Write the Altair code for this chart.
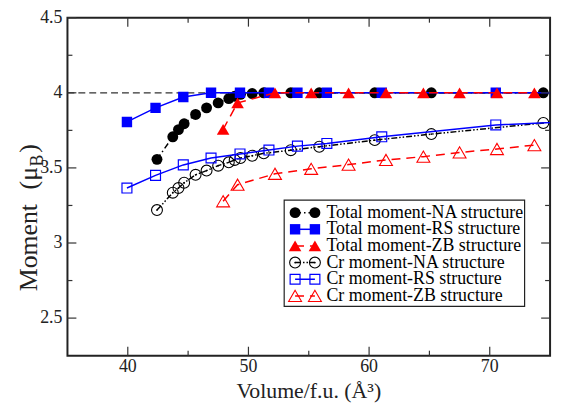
import altair as alt
import pandas as pd

# ---------------- data ----------------
na_vol = [42.42, 43.73, 44.20, 44.67, 45.62, 46.53, 47.49, 48.37, 48.86, 49.34,
          50.31, 51.27, 53.51, 55.87, 60.47, 65.16, 74.44]
na_total = [3.557, 3.707, 3.755, 3.794, 3.856, 3.900, 3.933, 3.962, 3.977, 3.990,
            3.995, 4.0, 4.0, 4.0, 4.0, 4.0, 4.0]
na_cr = [3.219, 3.335, 3.366, 3.401, 3.454, 3.482, 3.515, 3.537, 3.553, 3.566,
         3.581, 3.597, 3.618, 3.641, 3.685, 3.725, 3.799]

rs_vol = [39.93, 42.30, 44.60, 46.90, 49.30, 51.70, 54.06, 56.50, 61.05, 70.50, 80.0]
rs_total = [3.806, 3.900, 3.972, 4.0, 4.0, 4.0, 4.0, 4.0, 4.0, 4.0, 4.0]
rs_cr = [3.366, 3.450, 3.520, 3.566, 3.593, 3.619, 3.645, 3.663, 3.707, 3.786, 3.82]

zb_vol = [47.9, 49.1, 52.2, 55.2, 58.3, 61.4, 64.5, 67.5, 70.6, 73.7]
zb_total = [3.757, 3.933, 4.0, 4.0, 4.0, 4.0, 4.0, 4.0, 4.0, 4.0]
zb_cr = [3.278, 3.388, 3.461, 3.494, 3.522, 3.553, 3.575, 3.603, 3.626, 3.652]

labels = ["Total moment-NA structure", "Total moment-RS structure",
          "Total moment-ZB structure", "Cr moment-NA structure",
          "Cr moment-RS structure", "Cr moment-ZB structure"]

x_major = [40, 50, 60, 70]
x_major_labels = ["40", "50", "60", "70"]
x_minor = [45, 55, 65]
y_major = [2.5, 3.0, 3.5, 4.0, 4.5]
y_major_labels = ["2.5", "3", "3.5", "4", "4.5"]
y_minor = [2.75, 3.25, 3.75, 4.25]
ref_level = [4.0, 4.0]
ref_span = [35, 75]

x_title = "Volume/f.u.  (Å³)"

# ---------------- styling ----------------
W, H = 487, 341
FONT = "Liberation Serif"
INK = "#222"
xs = alt.Scale(domain=[35, 75], nice=False, zero=False)
ys = alt.Scale(domain=[2.25, 4.5], nice=False, zero=False)
X = alt.X("x:Q", scale=xs, axis=None)
Y = alt.Y("y:Q", scale=ys, axis=None)

DASH_NA_T = [6, 3, 1.5, 3]
DASH_NA_C = [6, 2, 1.5, 2, 1.5, 2]
DASH_ZB = [9, 6]

styles = [
    ("black", DASH_NA_T, dict(shape="circle", filled=True, size=121)),
    ("blue", None, dict(shape="square", filled=True, size=110)),
    ("red", DASH_ZB, dict(shape="triangle-up", filled=True, size=160)),
    ("black", DASH_NA_C, dict(shape="circle", filled=False, size=121, strokeWidth=1.1)),
    ("blue", None, dict(shape="square", filled=False, size=100, strokeWidth=1.2)),
    ("red", DASH_ZB, dict(shape="triangle-up", filled=False, size=170, strokeWidth=1.1)),
]
series = [(na_vol, na_total), (rs_vol, rs_total), (zb_vol, zb_total),
          (na_vol, na_cr), (rs_vol, rs_cr), (zb_vol, zb_cr)]

one = pd.DataFrame({"k": [0]})
layers = []

# reference dashed line at 4 muB
ref_df = pd.DataFrame({"x": ref_span, "y": ref_level})
layers.append(alt.Chart(ref_df).mark_line(color="#333", strokeWidth=1.2,
                                          strokeDash=[7, 4], clip=True).encode(X, Y))

def line_kw(color, dash):
    kw = dict(color=color, strokeWidth=1.5)
    if dash:
        kw["strokeDash"] = dash
    return kw

for i, ((vol, val), (color, dash, mk)) in enumerate(zip(series, styles)):
    df = pd.DataFrame({"x": vol, "y": val})
    layers.append(alt.Chart(df).mark_line(clip=True, **line_kw(color, dash)).encode(X, Y))
    layers.append(alt.Chart(df).mark_point(color=color, opacity=1, clip=True, **mk).encode(X, Y))
    if i == 3:
        layers.append(alt.Chart(df).mark_point(shape="circle", filled=True, size=3,
                                               color="black", opacity=1, clip=True).encode(X, Y))

# ---------------- inward ticks ----------------
tick_kw = dict(color="#333", strokeWidth=1.2)
xmaj = pd.DataFrame({"x": x_major, "lab": x_major_labels})
xmin = pd.DataFrame({"x": x_minor})
ymaj = pd.DataFrame({"y": y_major, "lab": y_major_labels})
ymin = pd.DataFrame({"y": y_minor})

for d, ln in ((xmaj, 9), (xmin, 5)):
    layers.append(alt.Chart(d).mark_rule(**tick_kw).encode(
        x=X, y=alt.value(H), y2=alt.value(H - ln)))
    layers.append(alt.Chart(d).mark_rule(**tick_kw).encode(
        x=X, y=alt.value(0), y2=alt.value(ln)))
for d, ln in ((ymaj, 9), (ymin, 5)):
    layers.append(alt.Chart(d).mark_rule(**tick_kw).encode(
        y=Y, x=alt.value(0), x2=alt.value(ln)))
    layers.append(alt.Chart(d).mark_rule(**tick_kw).encode(
        y=Y, x=alt.value(W), x2=alt.value(W - ln)))

# tick labels
layers.append(alt.Chart(xmaj).mark_text(align="center", baseline="alphabetic", font=FONT,
                                        fontSize=18, color=INK).encode(
    x=X, y=alt.value(H + 17), text="lab:N"))
layers.append(alt.Chart(ymaj).mark_text(align="right", baseline="middle", font=FONT,
                                        fontSize=18, color=INK).encode(
    y=Y, x=alt.value(-5), text="lab:N"))

# ---------------- legend ----------------
LX0, LX1, LY0, LY1 = 218.7, 461.3, 184, 291.3
layers.append(alt.Chart(one).mark_rect(fill="white", stroke="#222", strokeWidth=1.2).encode(
    x=alt.value(LX0), x2=alt.value(LX1), y=alt.value(LY0), y2=alt.value(LY1)))
SX1, SX2, TX = 229.7, 249.7, 261.3
for i, (lab, (color, dash, mk)) in enumerate(zip(labels, styles)):
    yr = 196.7 + 16.8 * i
    layers.append(alt.Chart(one).mark_rule(**line_kw(color, dash)).encode(
        x=alt.value(SX1), x2=alt.value(SX2), y=alt.value(yr)))
    for sx in (SX1, SX2):
        layers.append(alt.Chart(one).mark_point(color=color, opacity=1, **mk).encode(
            x=alt.value(sx), y=alt.value(yr)))
        if i == 3:
            layers.append(alt.Chart(one).mark_point(shape="circle", filled=True, size=3,
                                                    color="black", opacity=1).encode(
                x=alt.value(sx), y=alt.value(yr)))
    layers.append(alt.Chart(one).mark_text(align="left", baseline="middle", font=FONT,
                                           fontSize=18, color="black").encode(
        x=alt.value(TX), y=alt.value(yr), text=alt.value(lab)))

# ---------------- axis titles ----------------
layers.append(alt.Chart(one).mark_text(align="center", baseline="alphabetic", font=FONT,
                                       fontSize=22, color=INK).encode(
    x=alt.value(W / 2), y=alt.value(383.5), text=alt.value(x_title)))
# y title: "Moment  (μ" + subscript "B" + ")"
ytitle_parts = [("Moment", 26, -31, 232), ("(μ", 26, -31, 162), ("B", 18, -25, 144),
                (")", 26, -31, 132)]
for txt, fs, bx, cy in ytitle_parts:
    layers.append(alt.Chart(one).mark_text(align="center", baseline="alphabetic", font=FONT,
                                           fontSize=fs, color=INK, angle=270).encode(
        x=alt.value(bx), y=alt.value(cy), text=alt.value(txt)))

chart = alt.layer(*layers).properties(
    width=W, height=H,
    padding={"left": 60, "top": 8, "right": 8, "bottom": 49},
    autosize=alt.AutoSizeParams(type="none"),
    background="white",
).configure_view(stroke="#222", strokeWidth=2)

chart.save("out.html", embed_options={"renderer": "svg", "actions": False})
